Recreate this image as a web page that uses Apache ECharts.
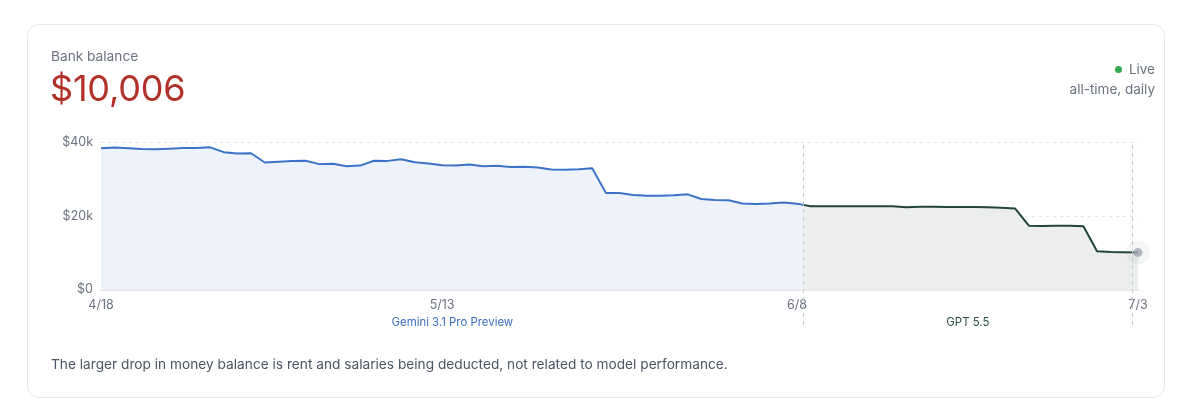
<!DOCTYPE html>
<html><head><meta charset="utf-8">
<script src="https://cdn.jsdelivr.net/npm/echarts@6/dist/echarts.min.js"></script>
<style>
html,body{margin:0;padding:0;background:#fff;width:1200px;height:413px;overflow:hidden;font-family:Inter,"Noto Sans",sans-serif;}
#card{position:absolute;left:27px;top:24px;width:1136px;height:372px;border:1px solid #e3e5e8;border-radius:12px;box-sizing:content-box;}
#chart{position:absolute;left:0;top:0;width:1200px;height:413px;}
.t{position:absolute;white-space:nowrap;}
</style></head><body>
<div id="card"></div>
<div id="chart"></div>
<div class="t" style="left:51px;top:46px;line-height:20px;font-size:13.7px;color:#6b7280">Bank balance</div>
<div class="t" style="left:50px;top:68px;line-height:40px;font-size:36px;color:#b1302a;letter-spacing:-0.2px">$10,006</div>
<div class="t" style="right:45px;top:59px;line-height:20px;font-size:13.5px;color:#6b7280"><span style="display:inline-block;width:7px;height:7px;border-radius:50%;background:#2fa84f;margin-right:7px;vertical-align:1px"></span>Live</div>
<div class="t" style="right:45px;top:79px;line-height:20px;font-size:13.5px;color:#6b7280">all-time, daily</div>
<div class="t" style="left:51px;top:354px;line-height:20px;font-size:13.7px;color:#4b5563">The larger drop in money balance is rent and salaries being deducted, not related to model performance.</div>
<script>
const FONT = 'Inter, "Noto Sans", sans-serif';
const tickDays = [0, 25, 51, 76];
const tickLabels = ['4/18', '5/13', '6/8', '7/3'];
const geminiDays = [0,1,2,3,4,5,6,7,8,9,10,11,12,13,14,15,16,17,18,19,20,21,22,23,24,25,26,27,28,29,30,31,32,33,34,35,36,37,38,39,40,41,42,43,44,45,46,47,48,49,50,51,51.5];
const geminiValues = [38300,38500,38300,38100,38050,38200,38350,38400,38550,37250,36850,36950,34450,34650,34850,34900,34000,34100,33450,33600,34900,34880,35300,34500,34150,33700,33650,33900,33450,33550,33250,33300,33100,32550,32500,32600,32900,26200,26150,25650,25450,25400,25550,25800,24550,24300,24200,23300,23200,23300,23600,23250,22950];
const gptDays = [51.5,52,53,54,55,56,57,58,59,60,61,62,63,64,65,66,67,68,69,70,71,72,73,74,75,76];
const gptValues = [22950,22600,22580,22600,22580,22600,22580,22600,22300,22450,22430,22400,22380,22350,22300,22200,21950,17300,17250,17300,17280,17150,10400,10150,10080,10006];
const switchDays = [51.5, 75.56];
const modelNames = ['Gemini 3.1 Pro Preview', 'GPT 5.5'];
const modelLabelDays = [(0 + switchDays[0]) / 2, (switchDays[0] + switchDays[1]) / 2];
const currentDay = 76;
const currentBalance = 10006;

const chart = echarts.init(document.getElementById('chart'), null, {renderer: 'canvas'});
const pair = (xs, ys) => xs.map((x, i) => [x, ys[i]]);
chart.setOption({
  animation: false,
  textStyle: {fontFamily: FONT},
  grid: [
    {left: 101, right: 62, top: 142, bottom: 123.5},
    {left: 101, right: 62, top: 142, bottom: 88}
  ],
  xAxis: [
    {type: 'value', gridIndex: 0, min: 0, max: 76,
     axisLine: {show: true, lineStyle: {color: '#e6e8eb', width: 2}},
     axisTick: {show: false}, splitLine: {show: false},
     axisLabel: {customValues: tickDays, formatter: v => tickLabels[tickDays.indexOf(v)],
                 color: '#6b7280', fontSize: 12.5, margin: 9.5, fontFamily: FONT}},
    {type: 'value', gridIndex: 1, min: 0, max: 76,
     axisLine: {show: false}, axisTick: {show: false}, splitLine: {show: false},
     axisLabel: {inside: true, margin: -3, customValues: modelLabelDays,
                 formatter: v => { const i = modelLabelDays.indexOf(v); return i === 0 ? '{g|' + modelNames[0] + '}' : '{p|' + modelNames[1] + '}'; },
                 rich: {g: {color: '#3a6fc4', fontSize: 11.4, fontFamily: FONT}, p: {color: '#24503c', fontSize: 11.4, fontFamily: FONT}}}}
  ],
  yAxis: [
    {type: 'value', gridIndex: 0, min: 0, max: 40000, interval: 20000,
     axisLine: {show: false}, axisTick: {show: false},
     axisLabel: {formatter: v => v === 0 ? '$0' : '$' + (v / 1000) + 'k', color: '#6b7280', fontSize: 12.5, margin: 8, fontFamily: FONT},
     splitLine: {lineStyle: {type: [3, 4], color: '#e2e4e8', width: 1}}},
    {type: 'value', gridIndex: 1, min: 0, max: 1, show: false}
  ],
  series: [
    {type: 'line', xAxisIndex: 0, yAxisIndex: 0, data: pair(geminiDays, geminiValues), symbol: 'none',
     lineStyle: {color: '#3c73c8', width: 2}, areaStyle: {color: '#eef2fa', opacity: 1}, z: 3},
    {type: 'line', xAxisIndex: 0, yAxisIndex: 0, data: pair(gptDays, gptValues), symbol: 'none',
     lineStyle: {color: '#1f4636', width: 2}, areaStyle: {color: '#eceeec', opacity: 1}, z: 3},
    {type: 'line', xAxisIndex: 1, yAxisIndex: 1, data: [], symbol: 'none', z: 4,
     markLine: {symbol: 'none', silent: true, label: {show: false}, animation: false,
                lineStyle: {type: [4, 4], color: '#c6cad0', width: 1},
                data: switchDays.map(d => ({xAxis: d}))}},
    {type: 'scatter', xAxisIndex: 0, yAxisIndex: 0, data: [[currentDay, currentBalance]], symbolSize: 24,
     itemStyle: {color: 'rgba(150,155,168,0.13)'}, clip: false, z: 5, silent: true},
    {type: 'scatter', xAxisIndex: 0, yAxisIndex: 0, data: [[currentDay, currentBalance]], symbolSize: 9,
     itemStyle: {color: '#a2a6b0'}, clip: false, z: 6, silent: true}
  ]
});
</script>
</body></html>
